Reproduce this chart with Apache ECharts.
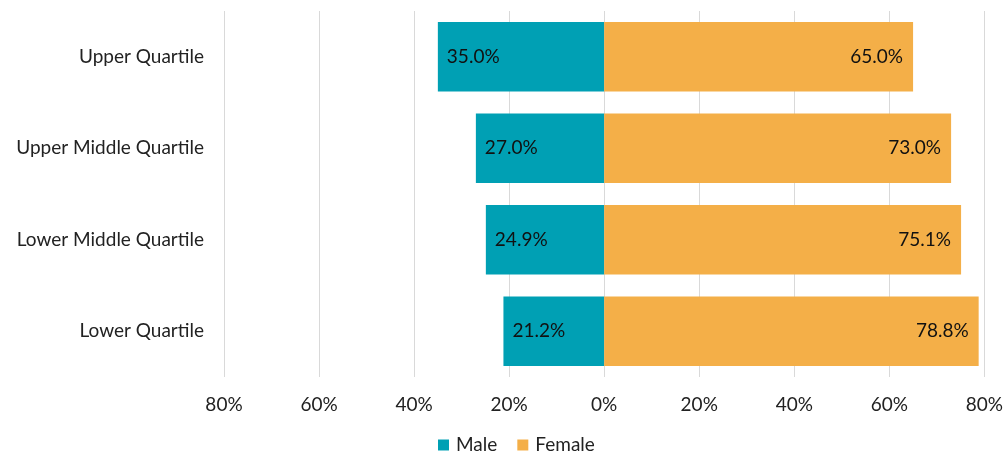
<!DOCTYPE html>
<html>
<head>
<meta charset="utf-8">
<script src="https://cdn.jsdelivr.net/npm/echarts@6/dist/echarts.min.js"></script>
<style>
  html, body { margin: 0; padding: 0; background: #fff; }
  #chart { width: 1006px; height: 452px; }
</style>
</head>
<body>
<div id="chart"></div>
<script>
// Pay-quartile gender split (percent of employees)
const quartiles = ['Lower Quartile', 'Lower Middle Quartile', 'Upper Middle Quartile', 'Upper Quartile'];
const malePct = [21.2, 24.9, 27.0, 35.0];
const femalePct = [78.8, 75.1, 73.0, 65.0];
const axisTicks = [-80, -60, -40, -20, 0, 20, 40, 60, 80];

const FONT = 'Lato';
const FS = 19;
const chart = echarts.init(document.getElementById('chart'));

chart.setOption({
  animation: false,
  textStyle: { fontFamily: FONT },
  grid: { left: 224, right: 19, top: 11, bottom: 75, containLabel: false },
  legend: {
    top: 435,
    left: 438,
    padding: 0,
    itemWidth: 11,
    itemHeight: 11,
    itemGap: 20,
    icon: 'rect',
    textStyle: { fontFamily: FONT, fontSize: FS, color: '#222', lineHeight: 20, padding: [0, 0, 0, 2] },
    data: ['Male', 'Female']
  },
  xAxis: {
    type: 'value',
    min: axisTicks[0],
    max: axisTicks[axisTicks.length - 1],
    interval: 20,
    axisLine: { show: false },
    axisTick: { show: false },
    splitLine: { lineStyle: { color: '#d9d9d9', width: 1 } },
    axisLabel: {
      margin: 18,
      fontFamily: FONT,
      fontSize: FS,
      color: '#222',
      formatter: v => Math.abs(v) + '%'
    }
  },
  yAxis: {
    type: 'category',
    data: quartiles,
    axisLine: { show: false },
    axisTick: { show: false },
    axisLabel: { margin: 20, fontFamily: FONT, fontSize: FS, color: '#222' }
  },
  series: [
    {
      name: 'Male',
      type: 'bar',
      stack: 'split',
      barWidth: '76%',
      itemStyle: { color: '#00A0B4' },
      label: {
        show: true,
        position: 'insideLeft',
        distance: 9,
        fontFamily: FONT,
        fontSize: FS,
        color: '#111',
        formatter: p => Math.abs(p.value).toFixed(1) + '%'
      },
      data: malePct.map(v => -v)
    },
    {
      name: 'Female',
      type: 'bar',
      stack: 'split',
      barWidth: '76%',
      itemStyle: { color: '#F4AF48' },
      label: {
        show: true,
        position: 'insideRight',
        distance: 10,
        fontFamily: FONT,
        fontSize: FS,
        color: '#111',
        formatter: p => p.value.toFixed(1) + '%'
      },
      data: femalePct
    }
  ]
});
</script>
</body>
</html>
